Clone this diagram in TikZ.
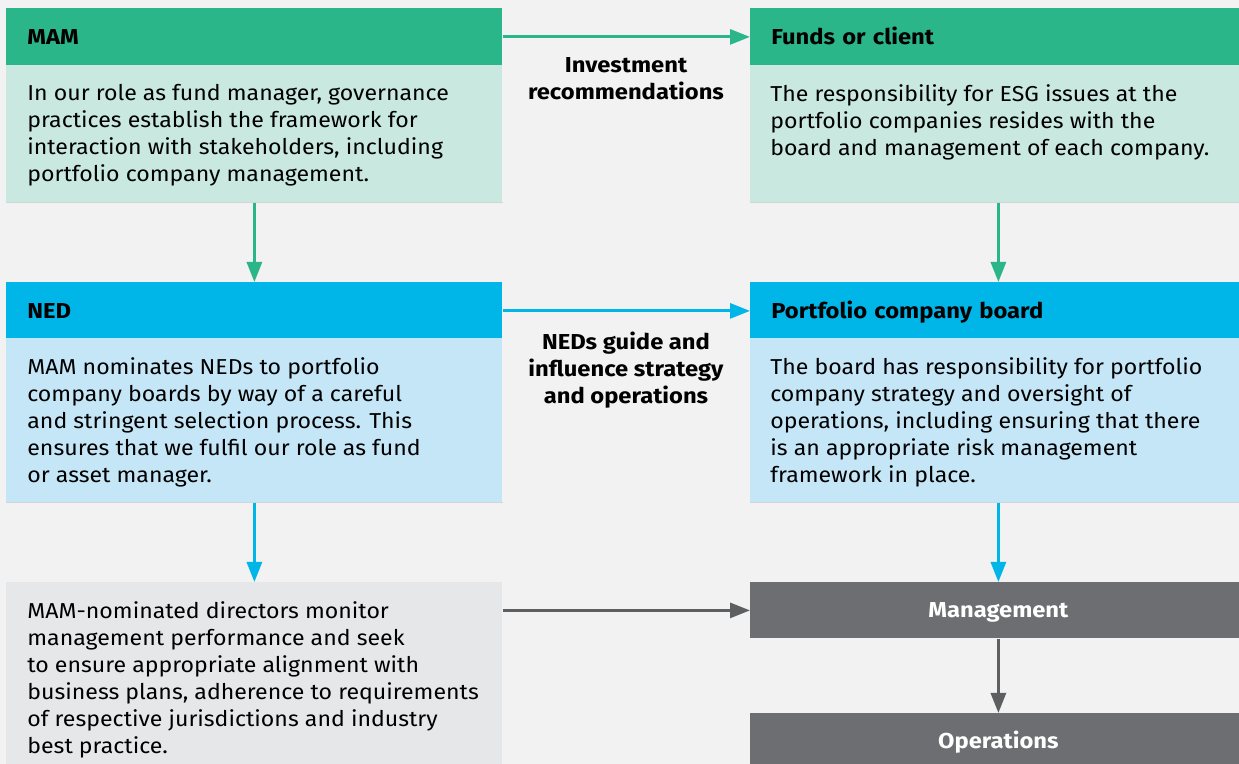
\documentclass[tikz,border=0pt]{standalone}
\usepackage{fontspec}
\setmainfont{Fira Sans}[FakeStretch=1.07, BoldFeatures={FakeStretch=1.1}]
\usetikzlibrary{arrows.meta,positioning}

\definecolor{bgGray}{HTML}{F2F2F2}
\definecolor{mamGreen}{HTML}{2BB68A}
\definecolor{mamPale}{HTML}{C8E8E0}
\definecolor{nedBlue}{HTML}{00B5E8}
\definecolor{nedPale}{HTML}{C4E6F7}
\definecolor{monGray}{HTML}{E6E7E8}
\definecolor{opsGray}{HTML}{6D6E71}
\definecolor{arrGray}{HTML}{5E5F61}
\definecolor{edgeGray}{HTML}{D2D5D6}

\newcommand{\bodyfont}{\fontsize{10.8}{13.5}\selectfont}

\tikzset{
  hdr/.style={rectangle, anchor=north west, minimum width=248pt, minimum height=28.5pt,
    inner xsep=10.5pt, text width=227pt, align=left, text height=7.5pt, text depth=0pt,
    font=\bfseries\bodyfont},
  bodybox/.style={rectangle, anchor=north west, minimum width=248pt, inner sep=0pt},
  txt/.style={anchor=north west, inner sep=0pt, align=left, font=\bodyfont},
  opsbox/.style={rectangle, anchor=north west, fill=opsGray, minimum width=248pt,
    minimum height=28pt, text height=7.5pt, text depth=0pt, text=white,
    font=\bfseries\bodyfont},
  midlbl/.style={align=center, inner sep=0pt, font=\bfseries\bodyfont},
  flow/.style={-{Triangle[width=7.5pt,length=10pt]}, line width=1.5pt},
  edgeline/.style={edgeGray, line width=0.6pt}
}

\begin{document}
\begin{tikzpicture}[x=0.5pt, y=-0.5pt]
  \useasboundingbox (0,0) rectangle (1239,764);
  \clip (0,0) rectangle (1239,764);
  \fill[bgGray] (0,0) rectangle (1239,764);

  % Left column
  \node[hdr, fill=mamGreen] (mamh) at (6,8) {MAM};
  \node[bodybox, fill=mamPale, minimum height=68.5pt] (mamb) at (6,65) {};
  \node[txt] (mamt) at ([xshift=10.5pt,yshift=-9.5pt]mamb.north west)
    {In our role as fund manager, governance\\practices establish the framework for\\interaction with stakeholders, including\\portfolio company management.};

  \node[hdr, fill=nedBlue] (nedh) at (6,282) {NED};
  \node[bodybox, fill=nedPale, minimum height=82pt] (nedb) at (6,338) {};
  \node[txt] (nedt) at ([xshift=10.5pt,yshift=-9.5pt]nedb.north west)
    {MAM nominates NEDs to portfolio\\company boards by way of a careful\\and stringent selection process. This\\ensures that we fulfil our role as fund\\or asset manager.};

  \node[bodybox, fill=monGray, minimum height=100pt] (monb) at (6,582) {};
  \node[txt] (mont) at ([xshift=10.5pt,yshift=-9.5pt]monb.north west)
    {MAM-nominated directors monitor\\management performance and seek\\to ensure appropriate alignment with\\business plans, adherence to requirements\\of respective jurisdictions and industry\\best practice.};

  % Right column
  \node[hdr, fill=mamGreen] (fundh) at (750,8) {Funds or client};
  \node[bodybox, fill=mamPale, minimum height=68.5pt] (fundb) at (750,65) {};
  \node[txt] (fundt) at ([xshift=10pt,yshift=-9.5pt]fundb.north west)
    {The responsibility for ESG issues at the\\portfolio companies resides with the\\board and management of each company.};

  \node[hdr, fill=nedBlue] (porth) at (750,282) {Portfolio company board};
  \node[bodybox, fill=nedPale, minimum height=82pt] (portb) at (750,338) {};
  \node[txt] (portt) at ([xshift=10pt,yshift=-9.5pt]portb.north west)
    {The board has responsibility for portfolio\\company strategy and oversight of\\operations, including ensuring that there\\is an appropriate risk management\\framework in place.};

  \node[opsbox] (mgmt) at (750,582) {Management};
  \node[opsbox] (ops) at (750,713) {Operations};

  % thin lower edges of the pale boxes
  \draw[edgeline] (mamb.south west) -- (mamb.south east);
  \draw[edgeline] (fundb.south west) -- (fundb.south east);
  \draw[edgeline] (nedb.south west) -- (nedb.south east);
  \draw[edgeline] (portb.south west) -- (portb.south east);

  % Middle labels
  \node[midlbl] (invl) at (626,79) {Investment\\recommendations};
  \node[midlbl] (nedl) at (626,370) {NEDs guide and\\influence strategy\\and operations};

  % Arrows
  \draw[flow, mamGreen] (mamh.east) -- (fundh.west);
  \draw[flow, mamGreen] (mamb.south) -- (nedh.north);
  \draw[flow, mamGreen] (fundb.south) -- (porth.north);
  \draw[flow, nedBlue] (nedh.east) -- (porth.west);
  \draw[flow, nedBlue] (nedb.south) -- (monb.north);
  \draw[flow, nedBlue] (portb.south) -- (mgmt.north);
  \draw[flow, arrGray] (monb.east |- mgmt.west) -- (mgmt.west);
  \draw[flow, arrGray] (mgmt.south) -- (ops.north);
\end{tikzpicture}
\end{document}
